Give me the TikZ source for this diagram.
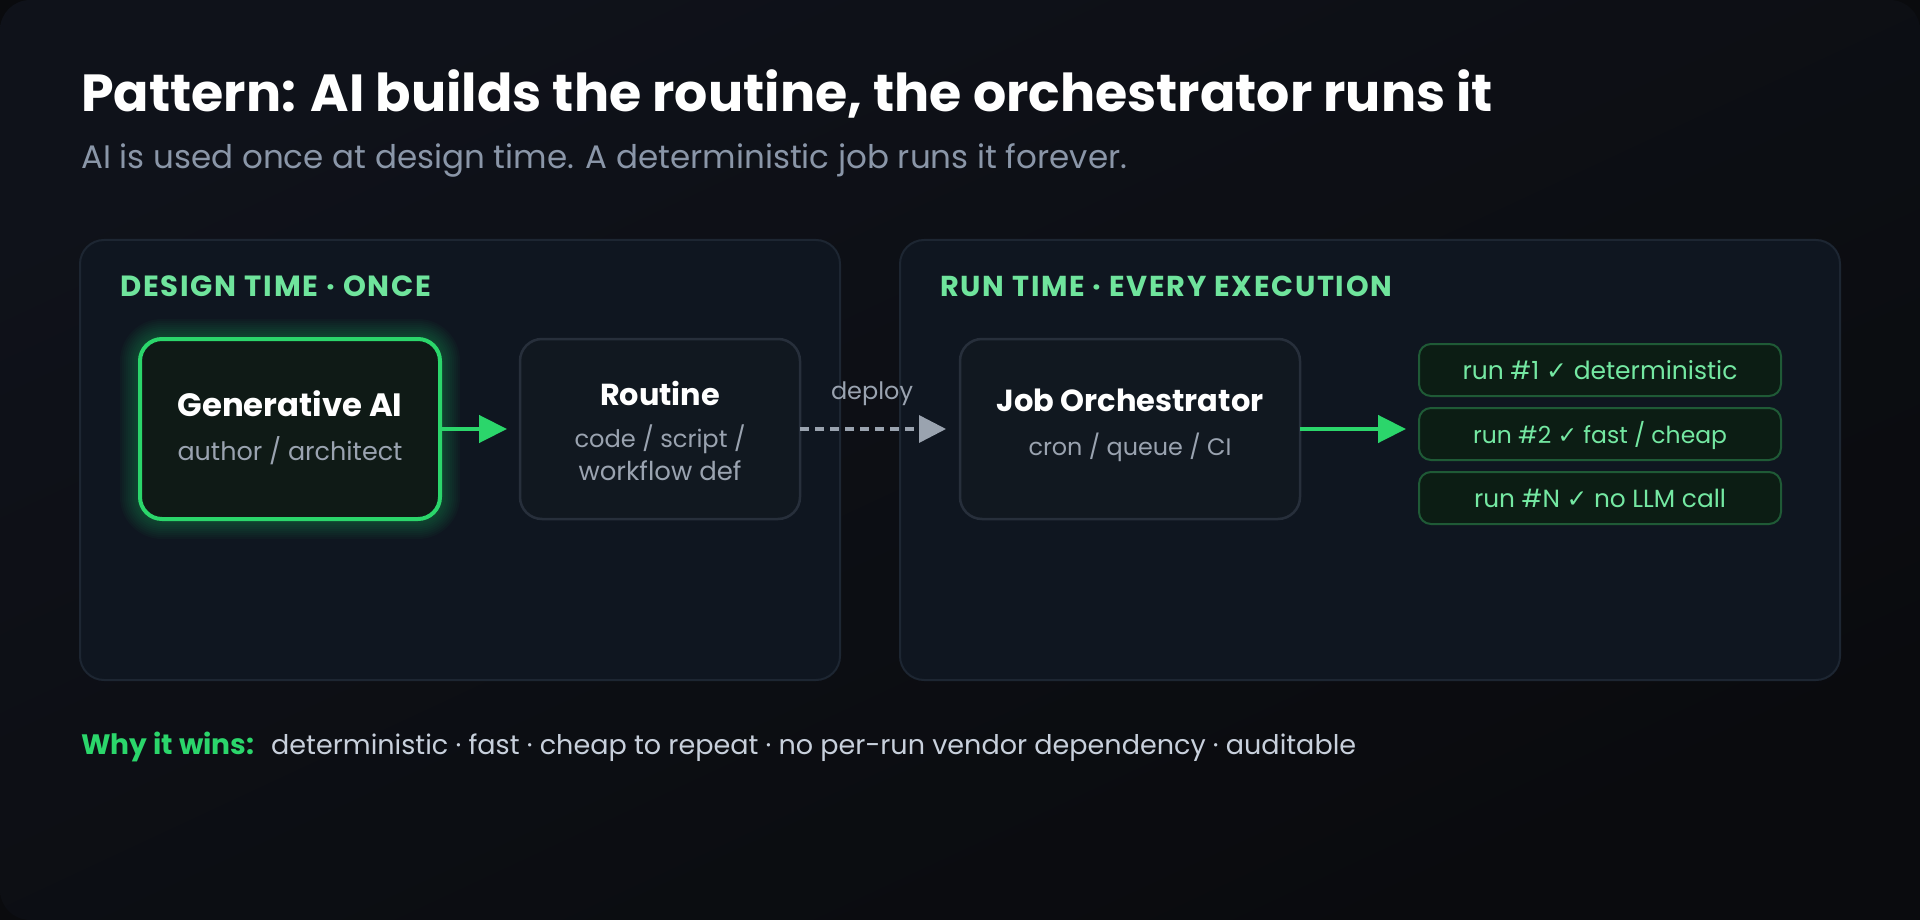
\documentclass[tikz,border=0pt]{standalone}
\usepackage{fontspec}
\setmainfont{Poppins}
\newfontfamily\dvs{DejaVu Sans}
\newfontfamily\lblfont[LetterSpace=6]{Poppins}
\usetikzlibrary{arrows.meta}
\definecolor{outerbg}{HTML}{0A0B0E}
\definecolor{bgA}{HTML}{0F121A}
\definecolor{bgB}{HTML}{0A0B0E}
\definecolor{panelfill}{HTML}{0F1620}
\definecolor{paneldraw}{HTML}{1D2632}
\definecolor{boxfill}{HTML}{111820}
\definecolor{boxdraw}{HTML}{272F3B}
\definecolor{gfill}{HTML}{0F1A16}
\definecolor{green}{HTML}{2BD66B}
\definecolor{lblgreen}{HTML}{6FE49C}
\definecolor{runfill}{HTML}{0C1D14}
\definecolor{rundraw}{HTML}{1F5A36}
\definecolor{runtext}{HTML}{74E8A2}
\definecolor{graytext}{HTML}{9AA3B0}
\definecolor{subtext}{HTML}{8A96A8}
\definecolor{bottomtext}{HTML}{C8D0DC}
\definecolor{dashc}{HTML}{9AA3AF}
\newlength\fitlen
\newcommand\fitw[2]{\settowidth\fitlen{\fontsize{10pt}{12pt}\selectfont #2}\pgfmathsetmacro\fitsz{#1/\fitlen*10}\fontsize{\fitsz pt}{\fitsz pt}\selectfont #2}
\begin{document}
\begin{tikzpicture}[x=1pt,y=-1pt,
  panel/.style={draw=paneldraw, line width=2pt, fill=panelfill, rounded corners=24pt, outer sep=0pt, inner sep=0pt},
  plainbox/.style={draw=boxdraw, line width=2.5pt, fill=boxfill, rounded corners=22pt, outer sep=0pt, inner sep=0pt},
  genbox/.style={draw=green, line width=4pt, fill=gfill, rounded corners=22pt, outer sep=0pt, inner sep=0pt},
  runbox/.style={draw=rundraw, line width=2pt, fill=runfill, rounded corners=12pt, outer sep=0pt, inner sep=0pt, minimum width=362pt, minimum height=52pt},
  txt/.style={inner sep=0pt, anchor=base},
  garrow/.style={draw=green, line width=4.5pt, -{Triangle[length=28pt,width=27pt]}, shorten >=13pt},
  darrow/.style={draw=dashc, line width=3.5pt, dash pattern=on 9pt off 6pt, -{Triangle[length=27pt,width=27pt]}, shorten >=14pt}
]
\useasboundingbox (0,0) rectangle (1920,920);
\fill[outerbg] (0,0) rectangle (1920,920);
\shade[rounded corners=30pt, top color=bgA, bottom color=bgB, shading angle=25] (0,0) rectangle (1920,920);

% title
\node[inner sep=0pt, anchor=base west, text=white, font=\bfseries] (title) at (81,112) {\fitw{1412}{Pattern: AI builds the routine, the orchestrator runs it}};
\node[inner sep=0pt, anchor=base west, text=subtext] (subtitle) at (81,169) {\fitw{1046}{AI is used once at design time. A deterministic job runs it forever.}};

% panels
\node[panel, minimum width=760pt, minimum height=440pt] (designpanel) at (460,460) {};
\node[panel, minimum width=940pt, minimum height=440pt] (runpanel) at (1370,460) {};
\node[inner sep=0pt, anchor=base west, text=lblgreen, font=\lblfont\bfseries] (designlbl) at (120,296) {\fitw{311}{DESIGN TIME · ONCE}};
\node[inner sep=0pt, anchor=base west, text=lblgreen, font=\lblfont\bfseries] (runlbl) at (940,296) {\fitw{452}{RUN TIME · EVERY EXECUTION}};

% glow
\foreach \d [evaluate=\d as \r using 22+\d] in {20,18,...,2}
  \fill[green, opacity=0.032, rounded corners=\r pt] (140-\d,339-\d) rectangle (440+\d,519+\d);

% boxes
\node[genbox, minimum width=300pt, minimum height=180pt] (genai) at (290,429) {};
\node[plainbox, minimum width=280pt, minimum height=180pt] (routine) at (660,429) {};
\node[plainbox, minimum width=340pt, minimum height=180pt] (job) at (1130,429) {};
\node[runbox] (run1) at (1600,370) {};
\node[runbox] (run2) at (1600,434) {};
\node[runbox] (run3) at (1600,498) {};

% box texts
\node[txt, text=white, font=\bfseries] (genaiT) at (290,416) {\fitw{225}{Generative AI}};
\node[txt, text=graytext] (genaiS) at (290,460) {\fitw{225}{author / architect}};
\node[txt, text=white, font=\bfseries] (routineT) at (660,405) {\fitw{120}{Routine}};
\node[txt, text=graytext] (routineS1) at (660,447) {\fitw{171}{code / script /}};
\node[txt, text=graytext] (routineS2) at (660,480) {\fitw{163}{workflow def}};
\node[txt, text=white, font=\bfseries] (jobT) at (1130,411) {\fitw{267}{Job Orchestrator}};
\node[txt, text=graytext] (jobS) at (1130,455) {\fitw{203}{cron / queue / CI}};
\node[txt, text=runtext] (run1T) at (1600,379) {\fitw{275}{run \#1 {\dvs ✓} deterministic}};
\node[txt, text=runtext] (run2T) at (1600,443) {\fitw{254}{run \#2 {\dvs ✓} fast / cheap}};
\node[txt, text=runtext] (run3T) at (1600,507) {\fitw{252}{run \#N {\dvs ✓} no LLM call}};

% connectors
\draw[garrow] (genai.east) -- (routine.west);
\draw[darrow] (routine.east) -- (job.west);
\node[txt, text=graytext] (deploy) at (872,399) {\fitw{82}{deploy}};
\draw[garrow] (job.east) -- (job.east -| run2.west);

% bottom line
\node[inner sep=0pt, anchor=base west, text=green, font=\bfseries] (why) at (81,754) {\fitw{173}{Why it wins:}};
\node[inner sep=0pt, anchor=base west, text=bottomtext] (whytext) at (271,754) {\fitw{1085}{deterministic · fast · cheap to repeat · no per-run vendor dependency · auditable}};
\end{tikzpicture}
\end{document}
